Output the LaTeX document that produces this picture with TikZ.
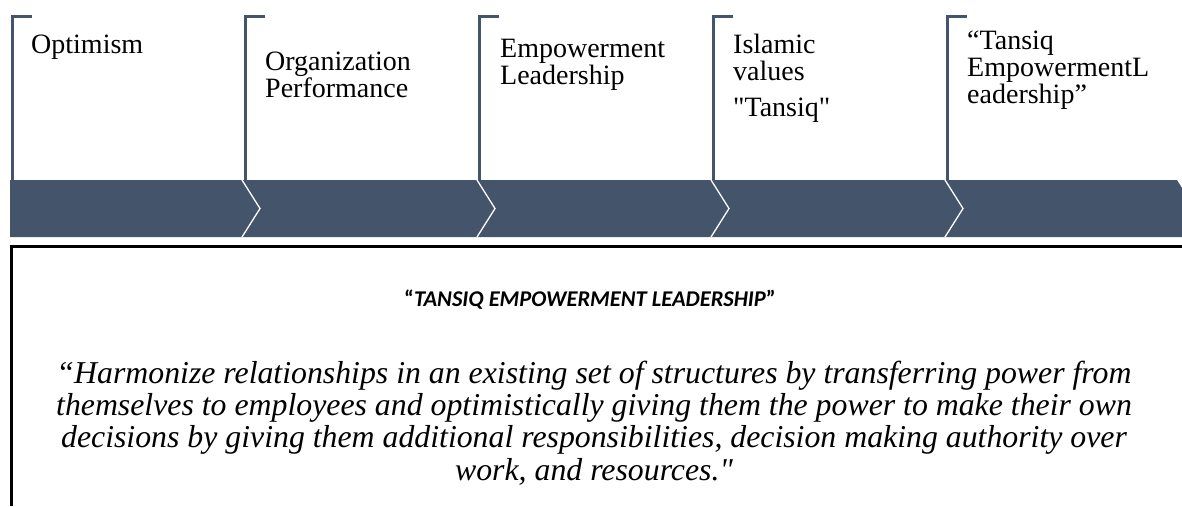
\documentclass[tikz,border=0pt]{standalone}
\usepackage{fontspec}
\setmainfont{Liberation Serif}[Ligatures=TeXOff]
\newfontfamily\headfont{Carlito}
\definecolor{slate}{HTML}{44546A}
\begin{document}
\begin{tikzpicture}[x=1pt,y=-1pt,
  bracket/.style={draw=slate,line width=3pt},
  sepline/.style={draw=white,line width=1.3pt},
  steplabel/.style={anchor=north west,inner sep=0pt,align=left,
    font=\fontsize{28}{27}\selectfont},
  headline/.style={anchor=base,inner sep=0pt,
    font=\headfont\bfseries\fontsize{22.5}{26}\selectfont},
  bodytext/.style={anchor=north,inner sep=0pt,align=center,
    font=\itshape\fontsize{31.8}{32.2}\selectfont}]
\useasboundingbox (0,0) rectangle (1182,506);

% timeline band
\fill[slate] (10,180) -- (1177,180) -- (1182,188) -- (1182,237) -- (10,237) -- cycle;
\foreach \x in {242,477,711,945}
  \draw[sepline] (\x,180) -- (\x+18,208.5) -- (\x,237);

% step brackets
\foreach \x in {12,245,479,713,947}
  \draw[bracket] (\x+20,16.5) -- (\x,16.5) -- (\x,180);

% step labels
\node[steplabel] (s1) at (31,35) {Optimism};
\node[steplabel] (s2) at (265,52) {Organization\\Performance};
\node[steplabel] (s3) at (500,39) {Empowerment\\Leadership};
\node[steplabel] (s4) at (733,34) {Islamic\\values\\[9pt]"Tansiq"};
\node[steplabel] (s5) at (967,31) {“Tansiq\\EmpowermentL\\eadership”};

% definition box
\draw[line width=2.5pt] (11.5,506) -- (11.5,246.5) -- (1182,246.5);
\node[headline] (title) at (590,306)
  {“\textit{TANSIQ EMPOWERMENT LEADERSHIP}”};
\node[bodytext] (def) at (594,361)
  {“Harmonize relationships in an existing set of structures by transferring power from\\
   themselves to employees and optimistically giving them the power to make their own\\
   decisions by giving them additional responsibilities, decision making authority over\\
   work, and resources."};
\end{tikzpicture}
\end{document}
